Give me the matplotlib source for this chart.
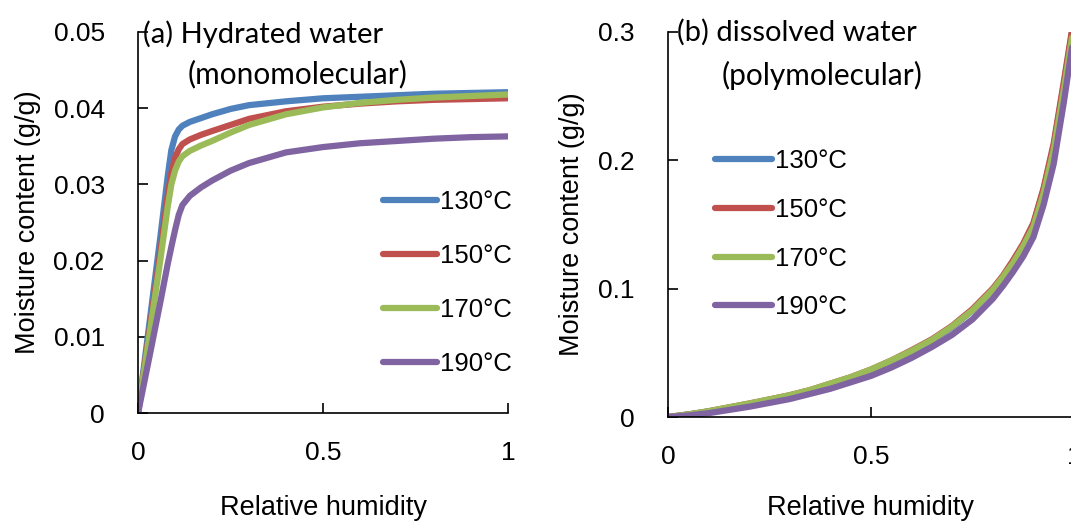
import matplotlib
matplotlib.use('Agg')
import matplotlib.pyplot as plt
import numpy as np

plt.rcParams['font.family'] = ['Liberation Sans', 'DejaVu Sans']

temps = ['130°C', '150°C', '170°C', '190°C']
colors = ['#4F81BD', '#C0504D', '#9BBB59', '#8064A2']

# (a) hydrated water, monomolecular
rh_a = [0, 0.03, 0.06, 0.08, 0.09, 0.10, 0.11, 0.12, 0.14, 0.17, 0.2, 0.25, 0.3,
        0.4, 0.5, 0.6, 0.7, 0.8, 0.9, 1.0]
mc_a_130 = [0, 0.0115, 0.023, 0.031, 0.0345, 0.0363, 0.0372, 0.0377, 0.0382, 0.0387, 0.0392,
            0.0399, 0.0404, 0.0409, 0.0413, 0.0415, 0.0417, 0.0419, 0.0420, 0.0421]
mc_a_150 = [0, 0.0105, 0.021, 0.0285, 0.0315, 0.0335, 0.0346, 0.0353, 0.0359, 0.0365, 0.0370,
            0.0378, 0.0386, 0.0396, 0.0402, 0.0406, 0.0409, 0.0411, 0.0412, 0.0413]
mc_a_170 = [0, 0.0100, 0.020, 0.027, 0.030, 0.0318, 0.0330, 0.0337, 0.0344, 0.0351, 0.0357,
            0.0368, 0.0378, 0.0392, 0.0401, 0.0407, 0.0411, 0.0414, 0.0416, 0.0418]
mc_a_190 = [0, 0.0072, 0.0145, 0.0195, 0.0218, 0.0240, 0.0260, 0.0273, 0.0285, 0.0296, 0.0305,
            0.0318, 0.0328, 0.0342, 0.0349, 0.0354, 0.0357, 0.0360, 0.0362, 0.0363]

# (b) dissolved water, polymolecular
rh_b = [0, 0.05, 0.1, 0.15, 0.2, 0.25, 0.3, 0.35, 0.4, 0.45, 0.5, 0.55, 0.6, 0.65,
        0.7, 0.75, 0.8, 0.825, 0.85, 0.875, 0.9, 0.925, 0.95, 0.975, 1.0]
mc_b_130 = [0, 0.002, 0.0043, 0.0072, 0.010, 0.0133, 0.0165, 0.0205, 0.0255, 0.0305, 0.0365,
            0.0435, 0.051, 0.0595, 0.070, 0.083, 0.099, 0.1095, 0.121, 0.134, 0.150,
            0.177, 0.211, 0.259, 0.309]
mc_b_150 = [0, 0.002, 0.0045, 0.0075, 0.0105, 0.0137, 0.017, 0.021, 0.026, 0.031, 0.037,
            0.044, 0.052, 0.0605, 0.071, 0.084, 0.100, 0.110, 0.122, 0.135, 0.151,
            0.178, 0.213, 0.261, 0.311]
mc_b_170 = [0, 0.002, 0.0045, 0.0075, 0.0105, 0.0137, 0.017, 0.021, 0.026, 0.031, 0.037,
            0.044, 0.0515, 0.060, 0.0705, 0.083, 0.099, 0.109, 0.120, 0.133, 0.148,
            0.174, 0.208, 0.255, 0.305]
mc_b_190 = [0, 0.0012, 0.003, 0.0055, 0.008, 0.011, 0.014, 0.018, 0.022, 0.027, 0.032,
            0.0385, 0.046, 0.0545, 0.064, 0.076, 0.092, 0.102, 0.113, 0.125, 0.140,
            0.165, 0.197, 0.245, 0.298]

fig = plt.figure(figsize=(10.71, 5.22), dpi=100)
ax1 = fig.add_axes([0.1289, 0.2088, 0.3454, 0.7299])
ax2 = fig.add_axes([0.6237, 0.2011, 0.3791, 0.7385])

for c, t, y in zip(colors, temps, [mc_a_130, mc_a_150, mc_a_170, mc_a_190]):
    ax1.plot(rh_a, y, color=c, lw=4.5, label=t, solid_capstyle='round',
             solid_joinstyle='round')
for c, t, y in zip(colors, temps, [mc_b_130, mc_b_150, mc_b_170, mc_b_190]):
    ax2.plot(rh_b, y, color=c, lw=4.5, label=t, solid_capstyle='round',
             solid_joinstyle='round')

ax1.set_xlim(0, 1)
ax1.set_ylim(0, 0.05)
ax1.set_xticks([0, 0.5, 1])
ax1.set_xticklabels(['0', '0.5', '1'])
ax1.set_yticks([0, 0.01, 0.02, 0.03, 0.04, 0.05])
ax1.set_yticklabels(['0', '0.01', '0.02', '0.03', '0.04', '0.05'])

ax2.set_xlim(0, 1)
ax2.set_ylim(0, 0.3)
ax2.set_xticks([0, 0.5, 1])
ax2.set_xticklabels(['0', '0.5', '1'])
ax2.set_yticks([0, 0.1, 0.2, 0.3])
ax2.set_yticklabels(['0', '0.1', '0.2', '0.3'])

for ax in (ax1, ax2):
    for s in ['top', 'right']:
        ax.spines[s].set_visible(False)
    for s in ['left', 'bottom']:
        ax.spines[s].set_linewidth(1.2)
    ax.tick_params(direction='in', length=7, width=1.2, labelsize=19)
    ax.tick_params(axis='y', pad=24)
    ax.tick_params(axis='x', pad=20)
    ax.set_xlabel('Relative humidity', fontsize=19.5)
    ax.set_ylabel('Moisture content (g/g)', fontsize=19.5)
    ax.xaxis.label.set_va('center')
    ax.yaxis.label.set_va('center')

ax1.xaxis.set_label_coords(0.5, -0.249)
ax1.yaxis.set_label_coords(-0.297, 0.5)
ax2.xaxis.set_label_coords(0.5, -0.236)
ax2.yaxis.set_label_coords(-0.236, 0.5)

ax1.legend(loc='center left', bbox_to_anchor=(0.662, 0.342), frameon=False,
           fontsize=18.5, handlelength=2.1, handletextpad=0.12,
           labelspacing=1.17, borderpad=0, borderaxespad=0)
ax2.legend(loc='center left', bbox_to_anchor=(0.116, 0.474), frameon=False,
           fontsize=18.5, handlelength=2.2, handletextpad=0.12,
           labelspacing=0.96, borderpad=0, borderaxespad=0)

ax1.text(0.0135, 0.0497, '(a) Hydrated water', fontsize=21, family='Lato', va='center')
ax1.text(0.135, 0.0445, '(monomolecular)', fontsize=21.5, family='Lato', va='center')
ax2.text(0.022, 0.2996, '(b) dissolved water', fontsize=21, family='Lato', va='center')
ax2.text(0.133, 0.266, '(polymolecular)', fontsize=21.5, family='Lato', va='center')

fig.savefig('out.png', dpi=100)
